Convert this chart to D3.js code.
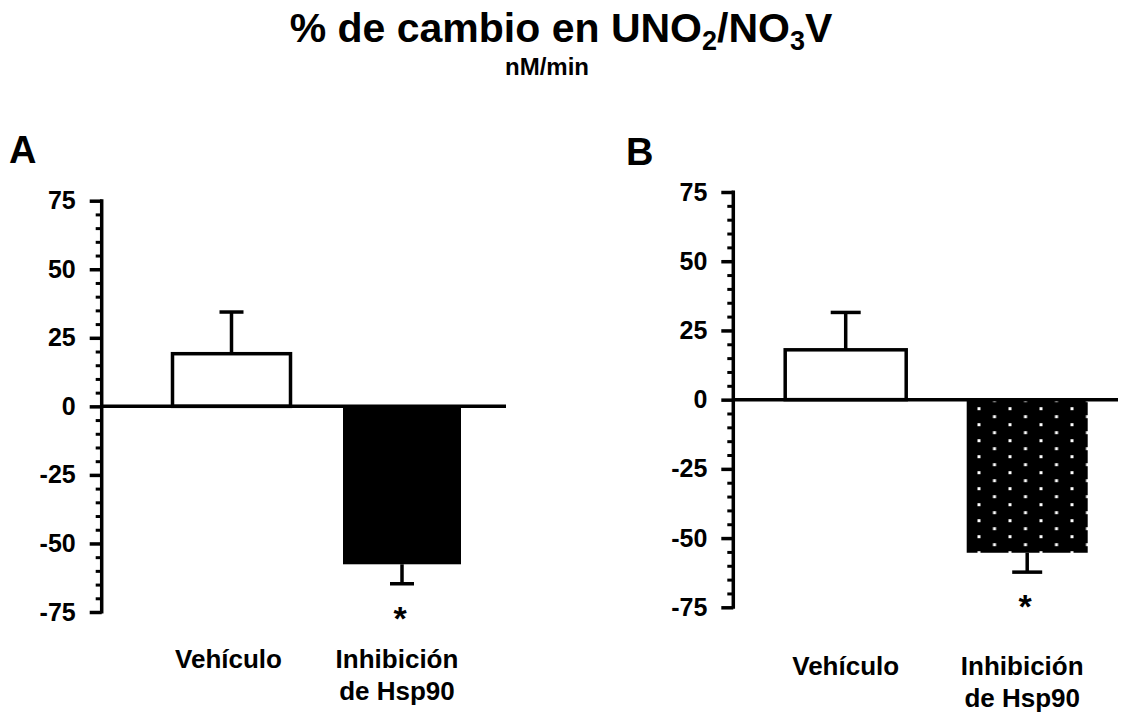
<!DOCTYPE html>
<html>
<head>
<meta charset="utf-8">
<script src="https://cdn.jsdelivr.net/npm/d3@7"></script>
<style>
  html, body { margin: 0; padding: 0; background: #fff; }
  svg { display: block; }
  text { font-family: "Liberation Sans", Arial, sans-serif; font-weight: bold; fill: #000; }
</style>
</head>
<body>
<svg id="chart" width="1130" height="713"></svg>
<script>
// ---- data ----
const categories = ["Vehículo", "Inhibición|de Hsp90"];
const panelA_means = [19.2, -57.6];
const panelA_errors = [15.2, 7.1];
const panelB_means = [18.0, -55.3];
const panelB_errors = [13.5, 7.0];
const yTicks = [-75, -50, -25, 0, 25, 50, 75];
const yDomain = [-75, 75];
const minorStep = 5;
const significance = ["", "*"];

const svg = d3.select("#chart");

// ---- title ----
const title = svg.append("text")
  .attr("x", 561).attr("y", 42)
  .attr("text-anchor", "middle")
  .style("font-size", "41px");
title.append("tspan").text("% de cambio en UNO");
title.append("tspan").text("2").style("font-size", "27px").attr("dy", 8);
title.append("tspan").text("/NO").attr("dy", -8);
title.append("tspan").text("3").style("font-size", "27px").attr("dy", 8);
title.append("tspan").text("V").attr("dy", -8);

svg.append("text")
  .attr("x", 547).attr("y", 75)
  .attr("text-anchor", "middle")
  .style("font-size", "24px")
  .text("nM/min");

function drawPanel(cfg) {
  const g = svg.append("g");
  const y = d3.scaleLinear().domain(yDomain).range([cfg.yBottom, cfg.yTop]);
  const x = d3.scalePoint().domain(categories).range(cfg.centers);

  // panel letter
  g.append("text").attr("x", cfg.letterX).attr("y", cfg.letterY)
    .style("font-size", "38px").text(cfg.letter);

  // minor ticks
  const minor = d3.range(yDomain[0], yDomain[1] + 0.001, minorStep).filter(v => !yTicks.includes(v));
  const minorAxis = d3.axisLeft(y).tickValues(minor).tickSize(6).tickFormat("");
  const ma = g.append("g").attr("transform", `translate(${cfg.axisX},0)`).call(minorAxis);
  ma.select(".domain").remove();
  ma.selectAll(".tick line").attr("stroke", "#000").attr("stroke-width", 3);

  // major axis
  const axis = d3.axisLeft(y).tickValues(yTicks).tickSize(12).tickSizeOuter(0).tickPadding(14)
    .tickFormat(d => String(d));
  const ax = g.append("g").attr("transform", `translate(${cfg.axisX},0)`).call(axis);
  ax.select(".domain").attr("stroke", "#000").attr("stroke-width", 3.5)
    .attr("d", `M0,${y(yDomain[1]) - 1.5}V${y(yDomain[0]) + 1.5}`);
  ax.selectAll(".tick line").attr("stroke", "#000").attr("stroke-width", 3.5);
  ax.selectAll(".tick text")
    .style("font-size", "25px")
    .style("font-family", "'Liberation Sans', Arial, sans-serif")
    .style("font-weight", "bold")
    .attr("fill", "#000");

  const bw = cfg.barWidth;
  // bars
  cfg.means.forEach((m, i) => {
    const cx = x(categories[i]);
    const y0 = y(0), y1 = y(m);
    g.append("rect")
      .attr("x", cx - bw / 2).attr("y", Math.min(y0, y1))
      .attr("width", bw).attr("height", Math.abs(y1 - y0))
      .attr("fill", cfg.fills[i])
      .attr("stroke", "#000")
      .attr("stroke-width", i === 0 ? 3.5 : 0);
    // error bar
    const e = m >= 0 ? m + cfg.errors[i] : m - cfg.errors[i];
    g.append("line").attr("x1", cx).attr("x2", cx).attr("y1", y1).attr("y2", y(e))
      .attr("stroke", "#000").attr("stroke-width", 3.5);
    g.append("line").attr("x1", cx - cfg.capHalf).attr("x2", cx + cfg.capHalf)
      .attr("y1", y(e)).attr("y2", y(e))
      .attr("stroke", "#000").attr("stroke-width", 3.5);
    // significance
    if (significance[i]) {
      g.append("text").attr("x", cx - 2).attr("y", y(e) + cfg.starOffset)
        .attr("text-anchor", "middle").style("font-size", "34px").text(significance[i]);
    }
    // category label
    const lines = categories[i].split("|");
    lines.forEach((ln, k) => {
      g.append("text").attr("x", cx + cfg.labelDx[i]).attr("y", cfg.labelY + k * 32)
        .attr("text-anchor", "middle").style("font-size", "26px").text(ln);
    });
  });

  // zero line
  g.append("line").attr("x1", cfg.axisX).attr("x2", cfg.zeroEnd)
    .attr("y1", y(0)).attr("y2", y(0))
    .attr("stroke", "#000").attr("stroke-width", 3.5);
}

// dot pattern for panel B
const defs = svg.append("defs");
const pat = defs.append("pattern").attr("id", "dots")
  .attr("patternUnits", "userSpaceOnUse")
  .attr("x", 977.5).attr("y", 407.2).attr("width", 31).attr("height", 16);
pat.append("rect").attr("width", 31).attr("height", 16).attr("fill", "#000");
pat.append("rect").attr("x", 0).attr("y", 0).attr("width", 3).attr("height", 3).attr("fill", "#fff");
pat.append("rect").attr("x", 15.5).attr("y", 8).attr("width", 3).attr("height", 3).attr("fill", "#fff");

drawPanel({
  letter: "A", letterX: 9, letterY: 163,
  axisX: 101.7, yTop: 200.7, yBottom: 612,
  centers: [231.5, 402], barWidth: 118, capHalf: 12,
  means: panelA_means, errors: panelA_errors,
  fills: ["#fff", "#000"], zeroEnd: 506,
  starOffset: 46, labelY: 668, labelDx: [-3, -5]
});

drawPanel({
  letter: "B", letterX: 626, letterY: 165,
  axisX: 733.3, yTop: 192, yBottom: 607.3,
  centers: [845.7, 1027.2], barWidth: 121, capHalf: 15,
  means: panelB_means, errors: panelB_errors,
  fills: ["#fff", "url(#dots)"], zeroEnd: 1118,
  starOffset: 46, labelY: 675, labelDx: [0, -5]
});
</script>
</body>
</html>
